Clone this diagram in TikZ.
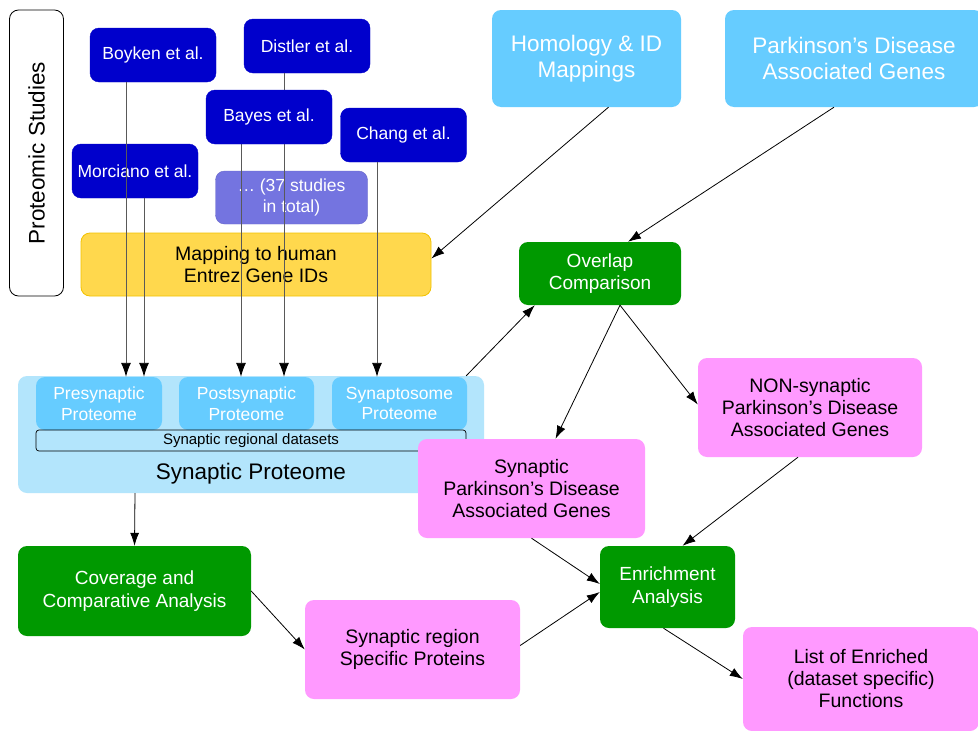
\documentclass[tikz,border=0pt]{standalone}
\usepackage{fontspec}
\setmainfont{Liberation Sans}
\usetikzlibrary{arrows.meta,calc}
\pgfdeclarelayer{front}
\pgfsetlayers{main,front}
\definecolor{study}{HTML}{0000CC}
\definecolor{studylite}{HTML}{7474E0}
\definecolor{sky}{HTML}{66CCFF}
\definecolor{skypale}{HTML}{B3E5FC}
\definecolor{gold}{HTML}{FFD84D}
\definecolor{goldedge}{HTML}{F2C200}
\definecolor{leaf}{HTML}{009900}
\definecolor{orchid}{HTML}{FF99FF}
\tikzset{
  box/.style={rounded corners=9pt, inner sep=0pt, align=center},
  studybox/.style={box, fill=study, draw=study, text=white, font=\fontsize{17.5}{21}\selectfont},
  skybox/.style={box, fill=sky, text=white, font=\fontsize{22.5}{26}\selectfont},
  subbox/.style={box, fill=sky, text=white, font=\fontsize{17.5}{20.5}\selectfont},
  greenbox/.style={box, fill=leaf, text=white, font=\fontsize{19}{22.5}\selectfont},
  pinkbox/.style={box, fill=orchid, text=black, font=\fontsize{19.5}{22}\selectfont},
  arr/.style={-{Latex[length=13pt,width=9pt]}, line width=0.8pt},
  feed/.style={-{Latex[length=14pt,width=10pt,color=black]}, line width=0.9pt, draw=black!65},
}
\begin{document}
\begin{tikzpicture}[x=1pt,y=-1pt]
\useasboundingbox[fill=white] (0,0) rectangle (978,731);

% study column
\node[box, draw=black, line width=0.8pt, fill=white, rotate=90,
      minimum width=286pt, minimum height=54pt, font=\fontsize{22.5}{26}\selectfont]
      (studies) at (36.5,153) {Proteomic Studies};

\node[studybox, minimum width=126pt, minimum height=54pt] (boyken) at (153,55) {Boyken et al.};
\node[studybox, minimum width=126pt, minimum height=54pt] (distler) at (307,46) {Distler et al.};
\begin{pgfonlayer}{front}
\node[studybox, minimum width=126pt, minimum height=54pt] (bayes) at (269,117) {Bayes et al.};
\end{pgfonlayer}
\node[studybox, minimum width=126pt, minimum height=54pt] (chang) at (403.5,135) {Chang et al.};
\node[studybox, minimum width=126pt, minimum height=54pt] (morciano) at (135,171) {Morciano et al.};
\node[studybox, fill=studylite, draw=studylite!90!black, minimum width=152pt, minimum height=53pt]
      (more) at (291.5,197.5) {\dots{} (37 studies\\in total)};

\node[box, fill=gold, draw=goldedge, line width=0.8pt, minimum width=350pt, minimum height=63pt,
      font=\fontsize{19.5}{22.5}\selectfont] (mapping) at (256,264.5) {Mapping to human\\Entrez Gene IDs};

% external inputs
\node[skybox, minimum width=189pt, minimum height=97pt] (homology) at (586.5,58.5) {Homology \& ID\\Mappings};
\node[skybox, minimum width=258pt, minimum height=97pt] (pdgenes) at (854,58.5) {Parkinson's Disease\\Associated Genes};

% synaptic proteome
\node[box, fill=skypale, minimum width=466pt, minimum height=117pt] (synprot) at (251,434.5) {};
\node[font=\fontsize{22.5}{26}\selectfont, inner sep=0pt] (synlabel) at (251,474) {Synaptic Proteome};
\node[subbox, minimum width=126pt, minimum height=53pt] (pre) at (99,403.5) {Presynaptic\\Proteome};
\node[subbox, minimum width=135pt, minimum height=53pt] (post) at (246.5,403.5) {Postsynaptic\\Proteome};
\node[subbox, minimum width=135pt, minimum height=53pt] (synapto) at (399.5,403.5) {Synaptosome\\Proteome};
\node[box, rounded corners=3pt, draw=black, line width=0.7pt, minimum width=430pt, minimum height=21pt,
      font=\fontsize{15}{17}\selectfont] (regional) at (251,440.5) {Synaptic regional datasets};

% analysis steps
\node[greenbox, minimum width=162pt, minimum height=63pt] (overlap) at (600,273.5) {Overlap\\Comparison};
\node[pinkbox, minimum width=227pt, minimum height=99pt] (synpd) at (531.5,488.5) {Synaptic\\Parkinson's Disease\\Associated Genes};
\node[pinkbox, minimum width=224pt, minimum height=99pt] (nonpd) at (810,407.5) {NON-synaptic\\Parkinson's Disease\\Associated Genes};
\node[greenbox, minimum width=233pt, minimum height=90pt] (coverage) at (134.5,591) {Coverage and\\Comparative Analysis};
\node[pinkbox, minimum width=215pt, minimum height=99pt] (region) at (412.5,649.5) {Synaptic region\\Specific Proteins};
\node[greenbox, minimum width=135pt, minimum height=82pt] (enrich) at (667.5,587) {Enrichment\\Analysis};
\node[pinkbox, minimum width=236pt, minimum height=104pt] (enlist) at (861,679) {List of Enriched\\(dataset specific)\\Functions};

% study feeds into the regional proteomes
\draw[feed] ([xshift=-27pt]boyken.south) -- ([xshift=-27pt]boyken.south |- pre.north);
\draw[feed] ([xshift=9pt]morciano.south) -- ([xshift=9pt]morciano.south |- pre.north);
\draw[feed] ([xshift=-28pt]bayes.south) -- ([xshift=-28pt]bayes.south |- post.north);
\draw[feed] ([xshift=-23pt]distler.south) -- ([xshift=-23pt]distler.south |- post.north);
\draw[feed] ([xshift=-26.5pt]chang.south) -- ([xshift=-26.5pt]chang.south |- synapto.north);

% flow between steps
\draw[arr] ([xshift=22pt]homology.south) -- ([yshift=6pt]mapping.east);
\draw[arr] ([xshift=-20pt]pdgenes.south) -- ([xshift=28pt]overlap.north);
\draw[arr] ([xshift=-18pt]synprot.north east) -- ([xshift=16pt]overlap.south west);
\draw[arr] ([xshift=20pt]overlap.south) -- ([xshift=24pt]synpd.north);
\draw[arr] ([xshift=20pt]overlap.south) -- ([yshift=3pt]nonpd.west);
\draw[arr] ([xshift=-12pt]nonpd.south) -- ([xshift=15pt]enrich.north);
\draw[arr] (synpd.south) -- ([yshift=3pt]enrich.west);
\draw[arr] ([xshift=-116pt]synprot.south) -- (coverage.north);
\draw[arr] (coverage.east) -- (region.west);
\draw[arr] ([yshift=4pt]region.east) -- ([yshift=-5pt]enrich.west);
\draw[arr] ([xshift=-4pt]enrich.south) -- (enlist.west);
\end{tikzpicture}
\end{document}
